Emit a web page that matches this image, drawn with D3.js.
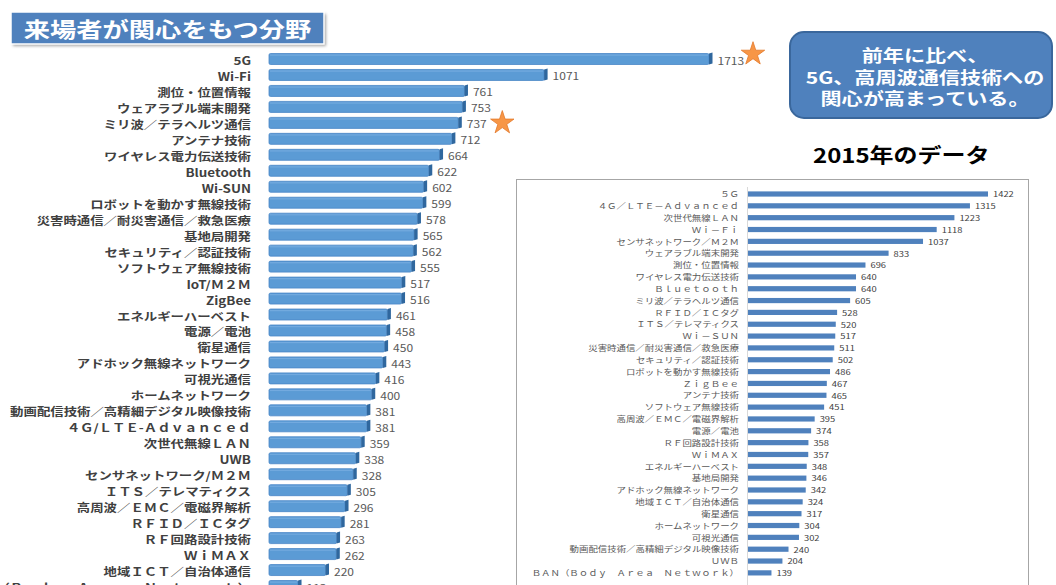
<!DOCTYPE html>
<html><head><meta charset="utf-8">
<script src="https://cdn.jsdelivr.net/npm/d3@7"></script>
<style>
html,body{margin:0;padding:0;background:#fff;overflow:hidden}
svg{display:block}
text{font-family:"Noto Sans CJK JP","Noto Sans",sans-serif}
</style></head><body>
<svg id="c" width="1056" height="585"></svg>
<script>
// ---- data ----
const categories2016 = ["5G","Wi-Fi","測位・位置情報","ウェアラブル端末開発","ミリ波／テラヘルツ通信","アンテナ技術","ワイヤレス電力伝送技術","Bluetooth","Wi-SUN","ロボットを動かす無線技術","災害時通信／耐災害通信／救急医療","基地局開発","セキュリティ／認証技術","ソフトウェア無線技術","IoT/Ｍ２Ｍ","ZigBee","エネルギーハーベスト","電源／電池","衛星通信","アドホック無線ネットワーク","可視光通信","ホームネットワーク","動画配信技術／高精細デジタル映像技術","４Ｇ/ＬＴＥ-Ａｄｖａｎｃｅｄ","次世代無線ＬＡＮ","UWB","センサネットワーク/Ｍ２Ｍ","ＩＴＳ／テレマティクス","高周波／ＥＭＣ／電磁界解析","ＲＦＩＤ／ＩＣタグ","ＲＦ回路設計技術","ＷｉＭＡＸ","地域ＩＣＴ／自治体通信","ＢＡＮ（Ｂｏｄｙ　Ａｒｅａ　Ｎｅｔｗｏｒｋ）"];
const values2016 = [1713,1071,761,753,737,712,664,622,602,599,578,565,562,555,517,516,461,458,450,443,416,400,381,381,359,338,328,305,296,281,263,262,220,113];
const starred2016 = ["5G","ミリ波／テラヘルツ通信"];

const categories2015 = ["５Ｇ","４Ｇ／ＬＴＥ－Ａｄｖａｎｃｅｄ","次世代無線ＬＡＮ","Ｗｉ－Ｆｉ","センサネットワーク／Ｍ２Ｍ","ウェアラブル端末開発","測位・位置情報","ワイヤレス電力伝送技術","Ｂｌｕｅｔｏｏｔｈ","ミリ波／テラヘルツ通信","ＲＦＩＤ／ＩＣタグ","ＩＴＳ／テレマティクス","Ｗｉ－ＳＵＮ","災害時通信／耐災害通信／救急医療","セキュリティ／認証技術","ロボットを動かす無線技術","ＺｉｇＢｅｅ","アンテナ技術","ソフトウェア無線技術","高周波／ＥＭＣ／電磁界解析","電源／電池","ＲＦ回路設計技術","ＷｉＭＡＸ","エネルギーハーベスト","基地局開発","アドホック無線ネットワーク","地域ＩＣＴ／自治体通信","衛星通信","ホームネットワーク","可視光通信","動画配信技術／高精細デジタル映像技術","ＵＷＢ","ＢＡＮ（Ｂｏｄｙ　Ａｒｅａ　Ｎｅｔｗｏｒｋ）"];
const values2015 = [1422,1315,1223,1118,1037,833,696,640,640,605,528,520,517,511,502,486,467,465,451,395,374,358,357,348,346,342,324,317,304,302,240,204,139];

const titleText = "来場者が関心をもつ分野";
const noteLines = ["前年に比べ、","5G、高周波通信技術への","関心が高まっている。"];
const insetTitle = "2015年のデータ";

// ---- drawing ----
const svg = d3.select("#c");

function stext(g, x, y, str, o) {
  const t = g.append("text")
    .attr("transform", `translate(${x},${y}) scale(${o.sx || 1.22},1)`)
    .attr("text-anchor", o.anchor || "start")
    .attr("font-size", o.size)
    .attr("font-weight", o.weight || "normal")
    .attr("fill", o.fill || "#000")
    .text(str);
  return t;
}

const defs = svg.append("defs");
const blur = defs.append("filter").attr("id","sh").attr("x","-10%").attr("y","-20%").attr("width","130%").attr("height","160%");
blur.append("feGaussianBlur").attr("stdDeviation", 1.5);

// main chart
const main = svg.append("g");
const x1 = d3.scaleLinear().domain([0, d3.max(values2016)]).range([269, 709]);
const y1 = d3.scalePoint().domain(categories2016).range([59, 59 + 33 * 15.97]);
const rows1 = categories2016.map((c, i) => ({c, v: values2016[i]}));
const bh = 11, depth = 3.5;

const bar = main.selectAll("g.bar").data(rows1).join("g").attr("class","bar");
bar.append("rect")
  .attr("x", x1(0)).attr("y", d => y1(d.c) - bh/2)
  .attr("width", d => x1(d.v) - x1(0)).attr("height", bh)
  .attr("rx", 1.5)
  .attr("fill", "#5B9BD5").attr("stroke", "#4A87C6").attr("stroke-width", 0.8);
bar.append("rect")
  .attr("x", x1(0) + 1).attr("y", d => y1(d.c) - bh/2 + 1)
  .attr("width", d => x1(d.v) - x1(0) - 2).attr("height", 1.2)
  .attr("fill", "#7DB1E2").attr("opacity", 0.7);
bar.append("path")
  .attr("d", d => {
    const e = x1(d.v), c = y1(d.c);
    return `M${e},${c - bh/2} L${e + depth},${c - bh/2 - 1} L${e + depth},${c + bh/2 - 1} L${e},${c + bh/2} Z`;
  })
  .attr("fill", "#2F679E");
rows1.forEach(d => {
  stext(main, x1(d.v) + depth + 5, y1(d.c) + 5.5, String(d.v), {size: 10, fill: "#595959", sx: 1.2});
  stext(main, 251, y1(d.c) + 6, d.c, {size: 11, weight: "bold", fill: "#404040", anchor: "end", sx: 1.22});
});

// stars
const star = d3.symbol().type(d3.symbolStar).size(170);
starred2016.forEach((c, i) => {
  const v = values2016[categories2016.indexOf(c)];
  main.append("path").attr("d", star())
    .attr("transform", `translate(${x1(v) + 44},${y1(c) + (i === 0 ? -5 : 0)})`)
    .attr("fill", "#F79646").attr("stroke", "#E3782A").attr("stroke-width", 0.8);
});

// title box
svg.append("rect").attr("x", 13).attr("y", 14).attr("width", 313).attr("height", 32)
  .attr("fill", "#a6a6a6").attr("filter", "url(#sh)");
svg.append("rect").attr("x", 11).attr("y", 12).attr("width", 313).attr("height", 32)
  .attr("fill", "#4F81BD").attr("stroke", "#ffffff").attr("stroke-width", 1.5);
stext(svg, 167.5, 37, titleText, {size: 21, weight: "bold", fill: "#fff", anchor: "middle", sx: 1.25});

// note box
svg.append("rect").attr("x", 790).attr("y", 32).attr("width", 262).attr("height", 86).attr("rx", 14)
  .attr("fill", "#4F81BD").attr("stroke", "#3A679C").attr("stroke-width", 2);
noteLines.forEach((l, i) => {
  stext(svg, 925, 62 + i * 21.5, l, {size: 16.5, weight: "bold", fill: "#fff", anchor: "middle", sx: 1.28});
});

// inset title
stext(svg, 813, 163, insetTitle, {size: 20, weight: "bold", fill: "#000", sx: 1.2});

// inset chart
const inset = svg.append("g");
inset.append("rect").attr("x", 516.5).attr("y", 179.5).attr("width", 512).attr("height", 420)
  .attr("fill", "#fff").attr("stroke", "#a6a6a6").attr("stroke-width", 1);
const x2 = d3.scaleLinear().domain([0, d3.max(values2015)]).range([748, 988]);
const y2 = d3.scalePoint().domain(categories2015).range([194, 194 + 32 * 11.84]);
inset.append("line").attr("x1", 747.5).attr("x2", 747.5).attr("y1", 187).attr("y2", 585)
  .attr("stroke", "#d9d9d9");
const rows2 = categories2015.map((c, i) => ({c, v: values2015[i]}));
inset.selectAll("rect.b2").data(rows2).join("rect").attr("class","b2")
  .attr("x", x2(0)).attr("y", d => y2(d.c) - 2.6)
  .attr("width", d => x2(d.v) - x2(0)).attr("height", 5.2)
  .attr("fill", "#4F81BD");
rows2.forEach(d => {
  stext(inset, 739, y2(d.c) + 3.2, d.c, {size: 8, fill: "#595959", anchor: "end", sx: 1.18});
  stext(inset, x2(d.v) + 5, y2(d.c) + 3.3, String(d.v), {size: 7.5, fill: "#404040", sx: 1.25});
});
</script>
</body></html>
